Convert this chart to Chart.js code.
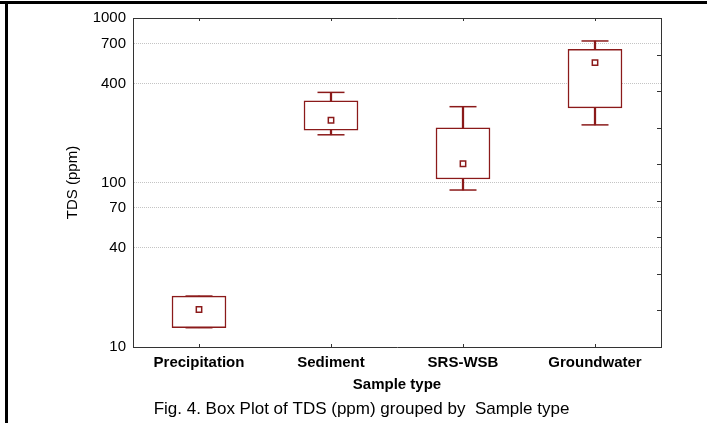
<!DOCTYPE html>
<html><head><meta charset="utf-8">
<script src="https://cdn.jsdelivr.net/npm/chart.js@4"></script>
<style>
html,body{margin:0;padding:0;background:#fff;}
#wrap{position:relative;width:707px;height:423px;overflow:hidden;background:#fff;}
#c{position:absolute;left:0;top:0;}
.ln{position:absolute;background:#000;}
</style></head><body>
<div id="wrap">
<canvas id="c" width="707" height="423"></canvas>
<div class="ln" style="left:0;top:1px;width:707px;height:3px"></div>
<div class="ln" style="left:5px;top:1px;width:3px;height:422px"></div>
</div>
<script>
// ---- data ----
const categories = ['Precipitation', 'Sediment', 'SRS-WSB', 'Groundwater'];
const whiskerMin = [13.1, 195, 90, 224];
const q1         = [13.1, 208, 105, 284];
const meanVals   = [16.9, 239, 130, 535];
const q3         = [20.4, 314, 215, 645];
const whiskerMax = [20.4, 353, 289, 725];
const yTickValues = [10, 40, 70, 100, 400, 700, 1000];
const rightTickSteps = [0, 1, 2, 3, 4, 5, 6, 7, 8, 9];
const captionText = 'Fig. 4. Box Plot of TDS (ppm) grouped by  Sample type';
const xTitle = 'Sample type';
const yTitle = 'TDS (ppm)';

const RED = '#8B1A1A';
const AXIS = '#333333';
const FAM = "'Liberation Sans', Arial, Helvetica, sans-serif";

const innerTicks = {
  id: 'innerTicks',
  afterDraw(chart) {
    const ctx = chart.ctx, a = chart.chartArea;
    ctx.save();
    ctx.strokeStyle = AXIS;
    ctx.lineWidth = 1;
    ['x', 'x2'].forEach(id => {
      const s = chart.scales[id];
      s.ticks.forEach((t, i) => {
        const px = Math.round(s.getPixelForTick(i)) + 0.5;
        ctx.beginPath();
        if (id === 'x') { ctx.moveTo(px, a.bottom); ctx.lineTo(px, a.bottom - 3); }
        else { ctx.moveTo(px, a.top); ctx.lineTo(px, a.top + 3); }
        ctx.stroke();
      });
    });
    const r = chart.scales.y2;
    r.ticks.forEach((t, i) => {
      if (t.value <= r.min || t.value >= r.max) return;
      const py = Math.round(r.getPixelForTick(i)) + 0.5;
      ctx.beginPath();
      ctx.moveTo(a.right, py);
      ctx.lineTo(a.right - 4, py);
      ctx.stroke();
    });
    ctx.restore();
  }
};

new Chart(document.getElementById('c'), {
  type: 'bar',
  data: {
    labels: categories,
    datasets: [
      { type: 'bar', xAxisID: 'x', yAxisID: 'y', data: categories.map((_, i) => [q3[i], whiskerMax[i]]),
        backgroundColor: RED, borderWidth: 0, barThickness: 1.6, grouped: false, order: 5 },
      { type: 'bar', xAxisID: 'x', yAxisID: 'y', data: categories.map((_, i) => [whiskerMin[i], q1[i]]),
        backgroundColor: RED, borderWidth: 0, barThickness: 1.6, grouped: false, order: 5 },
      { type: 'bar', xAxisID: 'x', yAxisID: 'y', data: categories.map((_, i) => [q1[i], q3[i]]),
        backgroundColor: '#ffffff', borderColor: RED, borderWidth: 1.5, borderSkipped: false,
        barThickness: 54, grouped: false, order: 4 },
      { type: 'line', xAxisID: 'x', yAxisID: 'y', data: whiskerMax, showLine: false,
        pointStyle: 'line', pointRadius: 13.5, pointBorderColor: RED, pointBorderWidth: 1.5, order: 3 },
      { type: 'line', xAxisID: 'x', yAxisID: 'y', data: whiskerMin, showLine: false,
        pointStyle: 'line', pointRadius: 13.5, pointBorderColor: RED, pointBorderWidth: 1.5, order: 3 },
      { type: 'line', xAxisID: 'x', yAxisID: 'y', data: meanVals, showLine: false,
        pointStyle: 'rect', pointRadius: 3.8, pointBackgroundColor: '#ffffff',
        pointBorderColor: RED, pointBorderWidth: 1.5, order: 1 }
    ]
  },
  options: {
    responsive: false,
    animation: false,
    events: [],
    layout: { padding: { left: 16, right: 0, top: 0, bottom: 0 } },
    plugins: {
      legend: { display: false },
      tooltip: { enabled: false },
      title: {
        display: true, position: 'bottom', text: captionText, color: '#000',
        font: { family: FAM, size: 17, weight: 'normal' },
        padding: { top: 3.8, bottom: 3.8 }
      }
    },
    scales: {
      x: {
        type: 'category', position: 'bottom', offset: true,
        grid: { display: false, drawTicks: false },
        border: { display: true, color: AXIS, width: 1 },
        ticks: { color: '#000', padding: 7, font: { family: FAM, size: 15, weight: 'bold' }, maxRotation: 0, autoSkip: false },
        title: { display: true, text: xTitle, color: '#000', padding: { top: 0, bottom: 1.5 },
                 font: { family: FAM, size: 15, weight: 'bold' } },
        afterFit: s => { s.height = 48; }
      },
      x2: {
        type: 'category', position: 'top', offset: true,
        grid: { display: false, drawTicks: false },
        border: { display: true, color: AXIS, width: 1 },
        ticks: { display: false },
        afterFit: s => { s.height = 18; }
      },
      y: {
        type: 'logarithmic', position: 'left', min: 10, max: 1000,
        afterBuildTicks: s => { s.ticks = yTickValues.map(v => ({ value: v })); },
        grid: {
          drawTicks: false, lineWidth: 1,
          color: c => (c.tick && (c.tick.value === 10 || c.tick.value === 1000)) ? 'rgba(0,0,0,0)' : '#c4c4c4'
        },
        border: { display: true, color: AXIS, width: 1, dash: [1, 1] },
        ticks: { color: '#000', padding: 7, font: { family: FAM, size: 15 }, callback: v => String(v) },
        title: { display: true, text: yTitle, color: '#000', padding: { top: 47.5, bottom: 0 },
                 font: { family: FAM, size: 15 } },
        afterFit: s => { s.width = 117; }
      },
      y2: {
        type: 'linear', position: 'right', min: rightTickSteps[0], max: rightTickSteps[rightTickSteps.length - 1],
        afterBuildTicks: s => { s.ticks = rightTickSteps.map(v => ({ value: v })); },
        grid: { display: false, drawTicks: false },
        border: { display: true, color: AXIS, width: 1 },
        ticks: { display: false },
        afterFit: s => { s.width = 46; }
      }
    }
  },
  plugins: [innerTicks]
});
</script>
</body></html>
